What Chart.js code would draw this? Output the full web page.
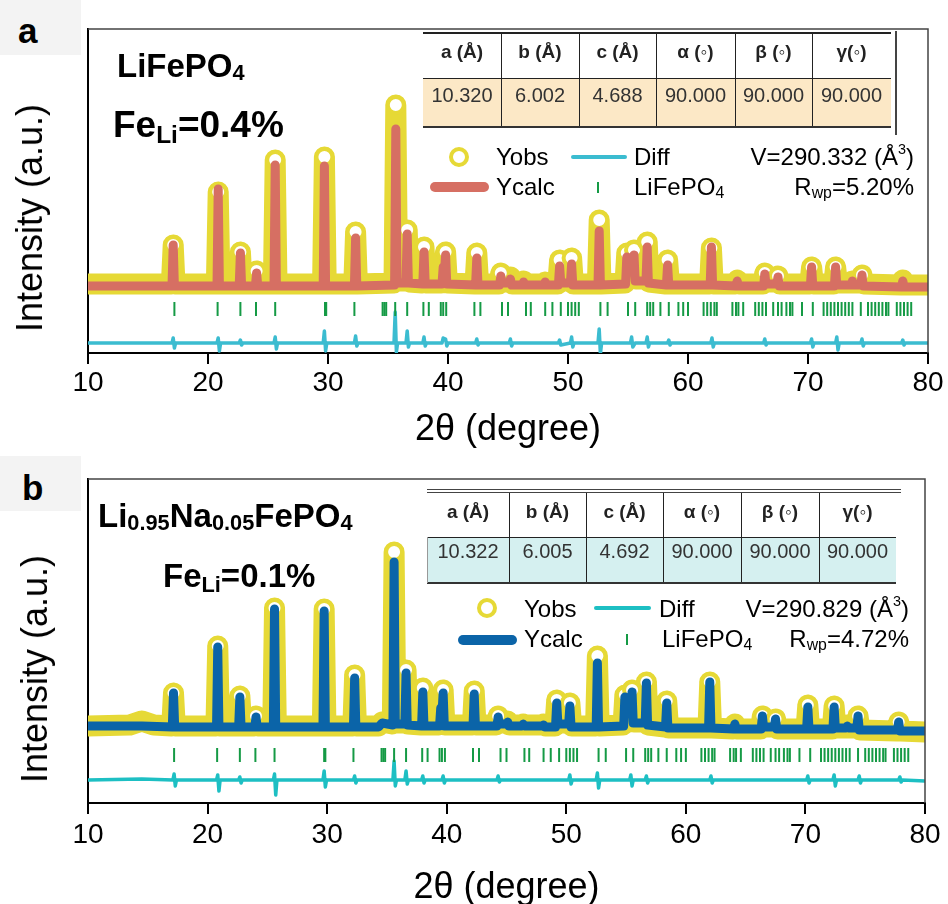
<!DOCTYPE html>
<html>
<head>
<meta charset="utf-8">
<script src="https://cdn.jsdelivr.net/npm/chart.js@4.4.1/dist/chart.umd.min.js"></script>
<style>
html, body { margin: 0; padding: 0; width: 948px; height: 904px; overflow: hidden; background: #fff;
  font-family: "Liberation Sans", Arial, sans-serif; }
canvas { position: absolute; left: 0; }
#chartA { top: 0; }
#chartB { top: 455px; }
.txt { position: absolute; white-space: nowrap; line-height: 1; color: #000; }
.bold { font-weight: bold; }
.sub { font-size: 0.66em; position: relative; top: 0.22em; }
.sup { font-size: 0.6em; position: relative; top: -0.75em; }
.tag { position: absolute; left: 0; width: 81px; height: 55px; background: #f3f3f3; }
.ytitle { position: absolute; font-size: 36px; line-height: 1; white-space: nowrap;
  transform: translate(-50%, -50%) rotate(-90deg); }
.leg { font-size: 24px; }
.sym { position: absolute; box-sizing: border-box; }
</style>
</head>
<body>
<canvas id="chartA" width="948" height="455"></canvas>
<canvas id="chartB" width="948" height="470"></canvas>

<!-- panel a -->
<div class="tag" style="top:0"></div>
<div class="txt bold" style="font-size:35px; left:18px; top:13px">a</div>
<div class="txt bold" style="font-size:33px; left:117px; top:49px">LiFePO<span class="sub" style="top:0.15em">4</span></div>
<div class="txt bold" style="font-size:37px; left:113px; top:106px">Fe<span class="sub" style="top:0.25em">Li</span>=0.4%</div>
<div class="ytitle" style="left:30px; top:218px">Intensity (a.u.)</div>

<div class="sym" style="left:449px; top:147px; width:20px; height:20px; border:4px solid #e6d936; border-radius:50%"></div>
<div class="txt leg" style="left:496px; top:145px">Yobs</div>
<div class="sym" style="left:571px; top:155px; width:56px; height:4px; background:#3bbcd0; border-radius:2px"></div>
<div class="txt leg" style="left:634px; top:145px">Diff</div>
<div class="txt leg" style="right:34px; top:145px">V=290.332 (Å<span class="sup">3</span>)</div>
<div class="sym" style="left:430px; top:182px; width:59px; height:10px; background:#d66f63; border-radius:5px"></div>
<div class="txt leg" style="left:496px; top:175px">Ycalc</div>
<div class="sym" style="left:597px; top:182px; width:2px; height:11px; background:#159a45"></div>
<div class="txt leg" style="left:634px; top:175px">LiFePO<span class="sub">4</span></div>
<div class="txt leg" style="right:34px; top:175px">R<span class="sub">wp</span>=5.20%</div>
<div id="tableA"></div>

<!-- panel b -->
<div class="tag" style="top:456px"></div>
<div class="txt bold" style="font-size:35px; left:22px; top:470px">b</div>
<div class="txt bold" style="font-size:33px; left:98px; top:499px">Li<span class="sub" style="top:0.15em">0.95</span>Na<span class="sub" style="top:0.15em">0.05</span>FePO<span class="sub" style="top:0.15em">4</span></div>
<div class="txt bold" style="font-size:33px; left:163px; top:559px">Fe<span class="sub" style="top:0.25em">Li</span>=0.1%</div>
<div class="ytitle" style="left:35px; top:669px">Intensity (a.u.)</div>

<div class="sym" style="left:477px; top:598px; width:20px; height:20px; border:4px solid #e6d936; border-radius:50%"></div>
<div class="txt leg" style="left:524px; top:597px">Yobs</div>
<div class="sym" style="left:594px; top:606px; width:57px; height:4px; background:#1dbfc3; border-radius:2px"></div>
<div class="txt leg" style="left:659px; top:597px">Diff</div>
<div class="txt leg" style="right:39px; top:597px">V=290.829 (Å<span class="sup">3</span>)</div>
<div class="sym" style="left:458px; top:635px; width:59px; height:10px; background:#0b64a8; border-radius:5px"></div>
<div class="txt leg" style="left:524px; top:627px">Ycalc</div>
<div class="sym" style="left:626px; top:634px; width:2px; height:11px; background:#159a45"></div>
<div class="txt leg" style="left:662px; top:627px">LiFePO<span class="sub">4</span></div>
<div class="txt leg" style="right:39px; top:627px">R<span class="sub">wp</span>=4.72%</div>
<div id="tableB"></div>

<script>
// lattice parameters shown in the tables
const latticeHeads = ['a (Å)', 'b (Å)', 'c (Å)', 'α (◦)', 'β (◦)', 'γ(◦)'];
const latticeA = ['10.320', '6.002', '4.688', '90.000', '90.000', '90.000'];
const latticeB = ['10.322', '6.005', '4.692', '90.000', '90.000', '90.000'];

// Bragg reflection positions of LiFePO4 (2θ, degree)
const braggPos = [17.2, 20.8, 22.7, 24.0, 25.6, 29.75, 29.85, 32.2, 34.55, 34.7, 34.85, 35.6, 36.6,
  37.95, 38.4, 39.4, 39.6, 39.85, 42.2, 42.7, 44.5, 45.0, 46.5, 46.9, 48.1, 48.7, 49.4,
  50.0, 50.3, 50.6, 50.9, 52.7, 53.3, 55.0, 55.6, 56.6, 56.85, 57.1, 57.7, 58.4, 59.2, 59.6, 60.0,
  61.3, 61.6, 61.9, 62.2, 62.4, 63.7, 64.0, 64.2, 64.6, 65.6, 65.9, 66.2, 66.5, 67.1, 67.5, 67.8,
  68.2, 68.5, 68.7, 69.5, 70.4, 71.3, 71.6, 71.9, 72.2, 72.5, 72.8, 73.1, 73.4, 73.7, 74.4,
  75.0, 75.3, 75.6, 75.9, 76.2, 76.5, 76.7, 77.4, 77.7, 78.0, 78.3, 78.6];

// panel a : LiFePO4  [2θ, intensity]
const obsA = [[10,69],[16.95,69],[17.1,108],[17.25,69],[20.7,69],[20.85,161],[21.0,69],
  [22.55,69],[22.7,101],[22.85,69],[23.9,69],[24.05,82],[24.2,69],[25.45,69],[25.6,193],[25.75,69],
  [29.55,69],[29.7,196],[29.85,69],[32.15,69],[32.3,121],[32.45,69],
  [35.5,70],[35.65,248],[35.8,72],[36.45,72],[36.6,123],[36.75,71],[37.85,70],[38.0,106],[38.15,70],
  [39.45,70],[39.8,101],[39.95,70],[42.25,69],[42.4,100],[42.55,69],
  [44.25,69],[44.4,80],[44.55,71],[45.05,71],[45.2,76],[45.35,69],[46.15,69],[46.3,72],[46.45,69],
  [47.95,69],[48.1,71],[48.25,69],[49.15,69],[49.3,93],[49.45,72],[50.15,72],[50.3,95],[50.45,69],
  [52.45,69],[52.6,133],[52.75,69],[54.75,70],[54.9,100],[55.2,88],[55.5,103],[55.65,74],
  [56.45,74],[56.6,111],[56.75,71],[58.15,69],[58.3,93],[58.45,69],[61.8,69],[61.95,105],[62.1,69],
  [63.95,69],[64.1,73],[64.25,69],[66.25,69],[66.4,80],[66.55,71],[67.35,71],[67.5,77],[67.65,69],
  [70.15,69],[70.3,86],[70.45,69],[72.15,69],[72.3,86],[72.45,70],[73.55,70],[73.7,72],[73.85,70],
  [74.35,70],[74.5,78],[74.65,69],[77.75,68],[77.9,73],[78.05,68],[80,68]];
const calcA = [[10,67],[17.0,67],[17.1,108],[17.2,67],[20.75,67],[20.85,164],[20.95,67],
  [22.6,67],[22.7,100],[22.8,67],[23.95,67],[24.05,80],[24.15,67],[25.5,67],[25.6,188],[25.7,67],
  [29.6,67],[29.7,187],[29.8,67],[32.2,67],[32.3,115],[32.4,67],
  [35.55,68],[35.65,224],[35.75,70],[36.5,70],[36.6,119],[36.7,70],[37.9,69],[38.0,101],[38.1,69],
  [39.5,69],[39.6,86],[39.7,80],[39.8,98],[39.9,69],[42.3,68],[42.4,95],[42.5,68],
  [44.3,68],[44.4,77],[44.5,70],[45.1,70],[45.2,74],[45.3,68],[46.2,68],[46.3,71],[46.4,68],
  [48.0,68],[48.1,71],[48.2,68],[49.2,68],[49.3,87],[49.4,70],[50.2,70],[50.3,89],[50.4,68],
  [52.5,68],[52.6,122],[52.7,68],[54.8,69],[54.9,96],[55.05,82],[55.4,84],[55.5,98],[55.6,72],
  [56.5,72],[56.6,106],[56.7,70],[58.2,68],[58.3,88],[58.4,68],[61.85,68],[61.95,106],[62.05,68],
  [64.0,67],[64.1,72],[64.2,67],[66.3,67],[66.4,79],[66.5,69],[67.4,69],[67.5,76],[67.6,67],
  [70.2,67],[70.3,86],[70.4,67],[72.2,67],[72.3,86],[72.4,68],[73.6,68],[73.7,72],[73.8,68],
  [74.4,68],[74.5,78],[74.6,67],[77.8,66],[77.9,72],[78.0,66],[80,66]];
const diffA = [[10,10],[17.0,10],[17.1,15],[17.2,5],[17.3,10],[20.75,10],[20.85,15],[20.95,2],[21.05,10],
  [22.6,10],[22.7,13],[22.8,8],[22.9,10],[25.5,10],[25.6,16],[25.7,4],[25.8,10],
  [29.6,10],[29.7,22],[29.8,2],[29.9,10],[32.2,10],[32.3,17],[32.4,7],[32.5,10],
  [35.5,10],[35.6,41],[35.7,1],[35.8,10],[36.5,10],[36.6,22],[36.7,6],[36.8,10],
  [37.9,10],[38.0,16],[38.1,7],[38.2,10],[39.5,10],[39.6,15],[39.8,14],[39.9,7],[40.0,10],
  [42.3,10],[42.4,14],[42.5,8],[42.6,10],[45.1,10],[45.2,14],[45.3,7],[45.4,10],
  [49.2,10],[49.3,13],[49.4,8],[50.2,10],[50.3,16],[50.4,6],[50.5,10],
  [52.5,10],[52.6,24],[52.7,-1],[52.8,10],[55.2,10],[55.3,16],[55.4,6],[55.6,10],
  [56.5,10],[56.6,16],[56.7,6],[56.8,10],[58.3,10],[58.4,13],[58.5,8],[58.6,10],
  [61.9,10],[62.0,15],[62.1,6],[62.2,10],[66.3,10],[66.4,14],[66.5,8],[66.6,10],
  [70.2,10],[70.3,14],[70.4,6],[70.5,10],[72.3,10],[72.4,16],[72.5,3],[72.6,10],
  [74.4,10],[74.5,14],[74.6,7],[74.7,10],[77.8,10],[77.9,13],[78.0,8],[78.1,10],[80,10]];

// panel b : Li0.95Na0.05FePO4  [2θ, intensity]
const obsB = [[10,77],[13.5,78],[14.5,82],[15.5,78],[17.0,77],[17.15,110],[17.3,77],
  [20.7,77],[20.85,157],[21.0,77],[22.55,77],[22.7,107],[22.85,77],[23.9,77],[24.05,87],[24.2,77],
  [25.45,77],[25.6,195],[25.75,77],[29.6,77],[29.75,194],[29.9,77],[32.15,77],[32.3,128],[32.45,77],
  [34.3,77],[34.6,81],[35.45,79],[35.6,251],[35.75,80],[36.45,80],[36.6,133],[36.75,79],
  [37.85,78],[38.0,115],[38.15,78],[39.35,78],[39.7,113],[39.85,78],[42.15,78],[42.3,112],[42.45,78],
  [44.15,78],[44.3,87],[44.45,80],[44.95,80],[45.1,82],[45.25,78],[46.25,78],[46.4,79],[46.55,78],
  [47.95,78],[48.1,79],[48.25,77],[49.05,77],[49.2,103],[49.35,80],[50.15,80],[50.3,100],[50.45,77],
  [52.45,77],[52.6,147],[52.75,77],[54.75,78],[54.9,108],[55.2,95],[55.5,113],[55.65,81],
  [56.55,81],[56.7,121],[56.85,78],[58.25,76],[58.4,102],[58.55,75],[61.85,75],[62.0,121],[62.15,75],
  [63.95,74],[64.1,79],[64.25,74],[66.25,74],[66.4,87],[66.55,76],[67.35,76],[67.5,84],[67.65,74],
  [70.05,74],[70.2,98],[70.35,74],[72.25,74],[72.4,97],[72.55,75],[73.35,75],[73.5,78],[73.65,75],
  [74.25,75],[74.4,87],[74.55,73],[77.65,72],[77.8,81],[77.95,72],[80,71]];
const calcB = [[10,77],[14.5,77],[17.05,76],[17.15,110],[17.25,76],[20.75,76],[20.85,156],[20.95,76],
  [22.6,76],[22.7,106],[22.8,76],[23.95,76],[24.05,86],[24.15,76],[25.5,76],[25.6,194],[25.7,76],
  [29.65,76],[29.75,192],[29.85,76],[32.2,76],[32.3,125],[32.4,76],
  [34.3,76],[34.6,80],[35.5,78],[35.6,241],[35.7,79],[36.5,79],[36.6,130],[36.7,78],
  [37.9,77],[38.0,111],[38.1,77],[39.4,77],[39.5,95],[39.6,88],[39.7,110],[39.8,77],
  [42.2,77],[42.3,109],[42.4,77],[44.2,77],[44.3,86],[44.4,79],[45.0,79],[45.1,81],[45.2,77],
  [46.3,77],[46.4,79],[46.5,77],[48.0,77],[48.1,78],[48.2,76],[49.1,76],[49.2,100],[49.3,79],
  [50.2,79],[50.3,97],[50.4,76],[52.5,76],[52.6,140],[52.7,76],[54.8,77],[54.9,106],[55.1,92],
  [55.4,95],[55.5,111],[55.6,80],[56.6,80],[56.7,120],[56.8,78],[58.3,76],[58.4,100],[58.5,75],
  [61.9,75],[62.0,121],[62.1,75],[64.0,74],[64.1,79],[64.2,74],[66.3,74],[66.4,87],[66.5,76],
  [67.4,76],[67.5,84],[67.6,74],[70.1,74],[70.2,96],[70.3,74],[72.3,74],[72.4,96],[72.5,75],
  [73.4,75],[73.5,77],[73.6,75],[74.3,75],[74.4,87],[74.5,73],[77.7,73],[77.8,81],[77.9,72],[80,72]];
const diffB = [[10,23],[14.5,24],[17.1,23],[17.2,29],[17.3,17],[17.4,23],[20.75,23],[20.85,28],[20.95,12],[21.05,23],
  [22.6,23],[22.7,26],[22.8,20],[22.9,23],[25.5,23],[25.6,29],[25.7,8],[25.8,23],
  [29.65,23],[29.75,32],[29.85,16],[29.95,23],[32.2,23],[32.3,27],[32.4,20],[32.5,23],
  [35.5,23],[35.6,42],[35.7,17],[35.8,23],[36.5,23],[36.6,32],[36.7,19],[36.8,23],
  [37.9,23],[38.0,27],[38.1,20],[38.2,23],[39.6,23],[39.7,27],[39.8,20],[39.9,23],
  [44.2,23],[44.3,27],[44.4,21],[44.5,23],[50.2,23],[50.3,28],[50.4,19],[50.5,23],
  [52.5,23],[52.6,30],[52.7,15],[52.8,23],[55.3,23],[55.4,28],[55.5,17],[55.6,23],
  [56.6,23],[56.7,27],[56.8,20],[56.9,23],[62.0,23],[62.1,27],[62.2,20],[62.3,23],
  [70.1,23],[70.2,27],[70.3,20],[70.4,23],[72.3,23],[72.4,28],[72.5,17],[72.6,23],
  [74.4,23],[74.5,27],[74.6,20],[74.7,23],[77.8,23],[77.9,26],[78.0,21],[78.1,23],[80,22]];

const FONT = '"Liberation Sans", Arial, sans-serif';
const YELLOW = '#e6d936';
const GREEN = '#159a45';

// open circle only on the clear maxima of the observed pattern
function ringAtPeak(ctx) {
  const d = ctx.dataset.data, i = ctx.dataIndex;
  if (i <= 0 || i >= d.length - 1) return 0;
  const rise = d[i][1] - Math.max(d[i - 1][1], d[i + 1][1]);
  return rise >= 6 ? 8 : 0;
}

// thin top/right frame of the plot box
const frameBox = {
  id: 'frameBox',
  afterDraw(chart) {
    const { ctx, chartArea: { left, top, right, bottom } } = chart;
    ctx.save();
    ctx.strokeStyle = '#444';
    ctx.lineWidth = 1.5;
    ctx.beginPath();
    ctx.moveTo(left, top);
    ctx.lineTo(right, top);
    ctx.lineTo(right, bottom);
    ctx.stroke();
    ctx.restore();
  }
};

function makeChart(id, cfg) {
  return new Chart(document.getElementById(id), {
    type: 'line',
    data: {
      datasets: [
        { label: 'Yobs', data: cfg.obs, borderColor: YELLOW, borderWidth: 21, order: 4, clip: 0,
          pointRadius: ringAtPeak, pointBorderWidth: 4, pointBorderColor: YELLOW, pointBackgroundColor: '#fff' },
        { label: 'Ycalc', data: cfg.calc, borderColor: cfg.calcColor, borderWidth: 9, order: 3, clip: 0, pointRadius: 0 },
        { label: 'Diff', data: cfg.diff, borderColor: cfg.diffColor, borderWidth: 3.5, order: 2, clip: 0, pointRadius: 0 },
        { label: 'LiFePO4', data: braggPos.map(p => ({ x: p, y: cfg.tickRow })), showLine: false, order: 1,
          pointStyle: 'line', pointRotation: 90, pointRadius: 7, pointBorderWidth: 2, pointBorderColor: GREEN }
      ]
    },
    options: {
      responsive: false,
      animation: false,
      devicePixelRatio: 1,
      events: [],
      layout: { padding: { left: 0, top: cfg.padTop, right: cfg.padRight, bottom: 0 } },
      elements: { line: { tension: 0, borderJoinStyle: 'round', borderCapStyle: 'round' } },
      plugins: { legend: { display: false }, tooltip: { enabled: false } },
      scales: {
        x: {
          type: 'linear', min: 10, max: 80,
          ticks: { stepSize: 10, color: '#000', padding: cfg.tickPad, maxRotation: 0, autoSkip: false,
                   font: { family: FONT, size: 28 } },
          grid: { drawOnChartArea: false, drawTicks: true, tickLength: 11, color: '#000', lineWidth: 2 },
          border: { display: true, color: '#000', width: 2 },
          title: { display: true, text: '2θ (degree)', color: '#000', font: { family: FONT, size: 36 },
                   padding: { top: 0, bottom: cfg.titlePad } },
          afterFit: s => { s.height = cfg.xHeight; }
        },
        y: {
          min: 0, max: 324,
          ticks: { display: false },
          grid: { display: false },
          border: { display: true, color: '#000', width: 2 },
          afterFit: s => { s.width = 88; }
        }
      }
    },
    plugins: [frameBox]
  });
}

makeChart('chartA', { obs: obsA, calc: calcA, diff: diffA, calcColor: '#d66f63', diffColor: '#3bbcd0',
  tickRow: 44, padTop: 29, padRight: 20, xHeight: 102, tickPad: 2, titlePad: 3 });
makeChart('chartB', { obs: obsB, calc: calcB, diff: diffB, calcColor: '#0b64a8', diffColor: '#1dbfc3',
  tickRow: 48, padTop: 24, padRight: 23, xHeight: 122, tickPad: 4, titlePad: 15 });

// lattice tables
function addDiv(parent, css, text) {
  const d = document.createElement('div');
  d.style.cssText = css;
  if (text !== undefined) d.textContent = text;
  parent.appendChild(d);
  return d;
}

function buildTable(id, t) {
  const host = document.getElementById(id);
  const total = t.cols.reduce((a, b) => a + b, 0);
  const bottom = t.top + t.headH + t.rowH;
  addDiv(host, `position:absolute;left:${t.left}px;top:${t.top + t.headH}px;width:${total}px;height:${t.rowH}px;background:${t.fill}`);
  let x = t.left;
  t.cols.forEach((w, i) => {
    addDiv(host, `position:absolute;left:${x}px;top:${t.top + t.headBase - 16}px;width:${w}px;font-size:19px;font-weight:bold;line-height:1;text-align:center;color:#222`, latticeHeads[i]);
    addDiv(host, `position:absolute;left:${x}px;top:${t.top + t.headH + t.valBase - 17}px;width:${w}px;font-size:20px;line-height:1;text-align:center;color:#333`, t.values[i]);
    if (i > 0) addDiv(host, `position:absolute;left:${x}px;top:${t.top}px;width:1px;height:${bottom - t.top}px;background:#222`);
    x += w;
  });
  addDiv(host, `position:absolute;left:${t.left}px;top:${t.top + t.headH}px;width:${total}px;height:1px;background:#222`);
  addDiv(host, `position:absolute;left:${t.left}px;top:${bottom - 1}px;width:${total}px;height:2px;background:#333`);
  t.lines.forEach(l => addDiv(host, l));
}

buildTable('tableA', { left: 423, top: 33, cols: [78, 78, 77, 79, 77, 79], headH: 45, rowH: 49,
  headBase: 25, valBase: 24, fill: '#fce8c6', values: latticeA,
  lines: ['position:absolute;left:423px;top:32px;width:468px;height:2px;background:#222',
          'position:absolute;left:895px;top:31px;width:2px;height:104px;background:#444'] });
buildTable('tableB', { left: 427, top: 493, cols: [82, 77, 77, 78, 78, 77], headH: 44, rowH: 46,
  headBase: 25, valBase: 21, fill: '#d5f0f0', values: latticeB,
  lines: ['position:absolute;left:427px;top:489px;width:474px;height:1px;background:#444',
          'position:absolute;left:427px;top:492px;width:474px;height:1px;background:#444',
          'position:absolute;left:427px;top:537px;width:1px;height:46px;background:#999'] });
</script>
</body>
</html>
